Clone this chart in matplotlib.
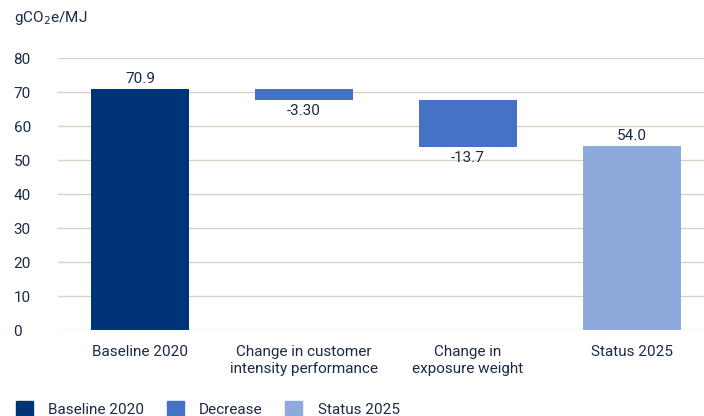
import numpy as np
import matplotlib.pyplot as plt
from matplotlib.patches import Patch

plt.rcParams['font.family'] = ['Roboto', 'DejaVu Sans']

categories = ['Baseline 2020', 'Change in customer\nintensity performance',
              'Change in\nexposure weight', 'Status 2025']
baseline = 70.9
changes = [-3.30, -13.7]
status = 54.0
labels = ['70.9', '-3.30', '-13.7', '54.0']

navy = '#003479'
mid = '#4472c4'
light = '#8eaadc'
txt = '#1b2a47'
grid = '#d8d2c0'
fs = 11

fig = plt.figure(figsize=(7.04, 4.16), dpi=100)
ax = fig.add_axes([58 / 704, 86 / 416, 646 / 704, 272 / 416])

x = np.arange(len(categories))
w = 0.6

ax.bar(x[0], baseline, w, color=navy, zorder=3)
ax.text(x[0], baseline + 1.0, labels[0], ha='center', va='bottom', color=txt, fontsize=fs)

level = baseline
for i, c in enumerate(changes):
    ax.bar(x[i + 1], -c, w, bottom=level + c, color=mid, zorder=3)
    ax.text(x[i + 1], level + c - 1.2, labels[i + 1], ha='center', va='top', color=txt, fontsize=fs)
    level += c

ax.bar(x[3], status, w, color=light, zorder=3)
ax.text(x[3], status + 1.0, labels[3], ha='center', va='bottom', color=txt, fontsize=fs)

ax.set_ylim(0, 80)
ax.set_xlim(-0.5, 3.44)
ax.set_yticks(range(0, 81, 10))
ax.yaxis.grid(True, color=grid, linewidth=1, zorder=0)
ax.set_xticks(x)
ax.set_xticklabels(categories, color=txt, fontsize=fs, linespacing=1.25)
ax.tick_params(axis='y', colors=txt, labelsize=fs, length=0, pad=32)
ax.tick_params(axis='x', length=0, pad=11)
for lbl in ax.get_yticklabels():
    lbl.set_horizontalalignment('left')
for s in ax.spines.values():
    s.set_visible(False)

fig.text(14 / 704, 1 - 18 / 416, r'gCO$_2$e/MJ', color=txt, fontsize=fs, va='center', ha='left')

handles = [Patch(color=navy, label='Baseline 2020'),
           Patch(color=mid, label='Decrease'),
           Patch(color=light, label='Status 2025')]
fig.legend(handles=handles, loc='lower left', bbox_to_anchor=(0.003, -0.035), ncol=3, frameon=False,
           fontsize=fs, labelcolor=txt, handlelength=1.1, handleheight=1.1,
           handletextpad=1.0, columnspacing=1.5)

fig.savefig('out.png', dpi=100)
